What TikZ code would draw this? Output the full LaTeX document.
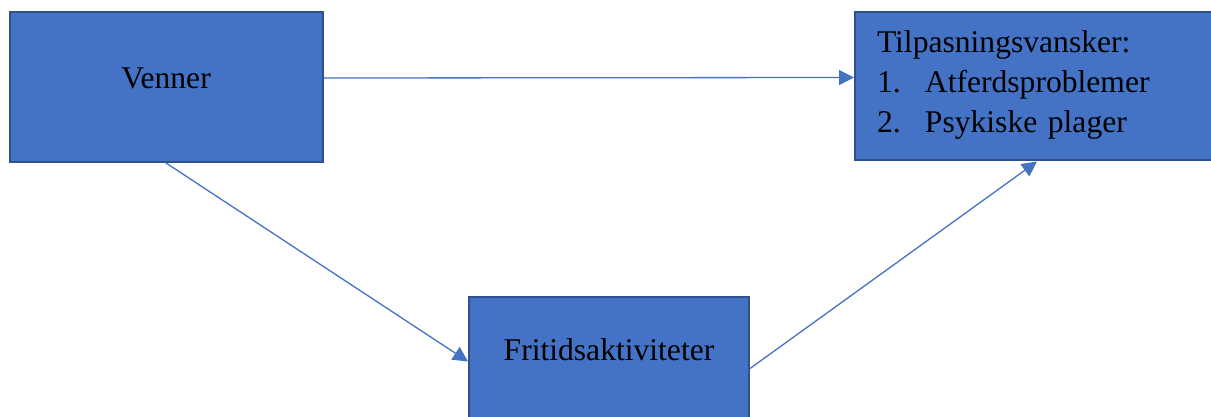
\documentclass[tikz,border=0pt]{standalone}
\usepackage{fontspec}
\setmainfont{Liberation Serif}
\usetikzlibrary{arrows.meta}
\definecolor{boxfill}{HTML}{4472C4}
\definecolor{boxline}{HTML}{2F528F}
\definecolor{arrowblue}{HTML}{4472C4}
\newcommand{\linestrut}{\rule[-11pt]{0pt}{35pt}}
\begin{document}
\begin{tikzpicture}[x=1pt, y=-1pt,
  box/.style={draw=boxline, fill=boxfill, line width=2pt, inner sep=0pt,
    font=\fontsize{31.6}{40}\selectfont, text height=14pt, text depth=10pt},
  link/.style={draw=arrowblue, line width=1.3pt, -{Triangle[length=15pt,width=15pt]}}]
\clip (0,0) rectangle (1211,417);
\fill[white] (0,0) rectangle (1211,417);
\node[box, minimum width=313pt, minimum height=150pt] (venner) at (166,87) {Venner};
\node[box, minimum width=280pt, minimum height=123pt] (fritid) at (609,358.5) {Fritidsaktiviteter};
\node[box, minimum width=364pt, minimum height=148pt, text width=320pt, align=left,
  text height=, text depth=] (tilpas) at (1037,86.5)
  {\linestrut Tilpasningsvansker:\\
   \linestrut\makebox[48pt][l]{1.}Atferdsproblemer\\
   \linestrut\makebox[48pt][l]{2.}Psykiske plager};
\draw[link] ([yshift=9pt]venner.east) -- ([yshift=9pt]tilpas.west);
\draw[link] (venner.south) -- ([yshift=-3pt]fritid.west);
\draw[link] ([yshift=-10pt]fritid.east) -- (tilpas.south);
\end{tikzpicture}
\end{document}
